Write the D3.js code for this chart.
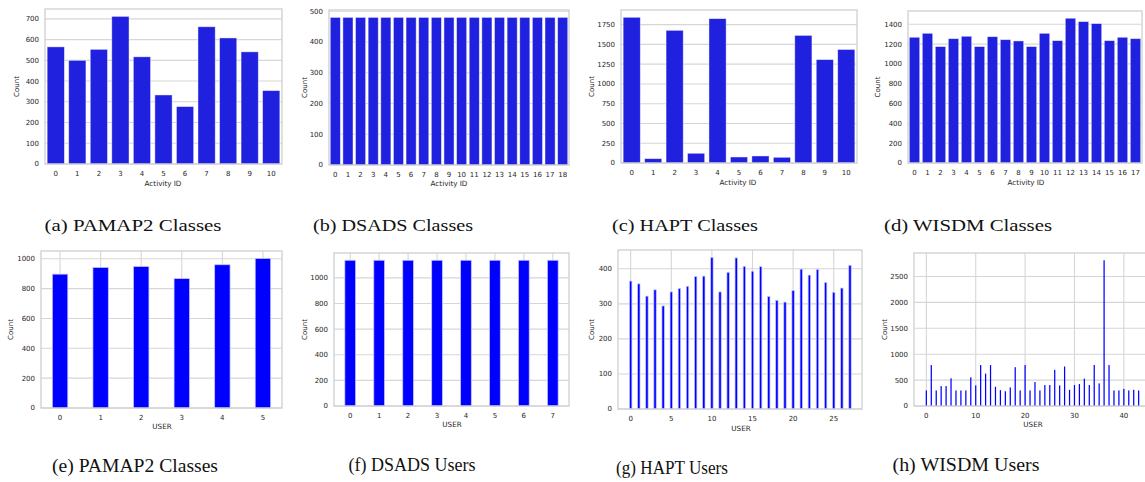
<!DOCTYPE html>
<html>
<head>
<meta charset="utf-8">
<script src="https://cdn.jsdelivr.net/npm/d3@7"></script>
<style>
  html, body { margin: 0; padding: 0; background: #ffffff; }
  svg { display: block; }
</style>
</head>
<body>
<svg id="chart" width="1145" height="482"></svg>
<script>
// ---------------- DATA ----------------
const pamapClassIds = ["0","1","2","3","4","5","6","7","8","9","10"];
const pamapClassCounts = [565, 500, 553, 712, 517, 333, 277, 662, 608, 541, 354];

const dsadsClassIds = ["0","1","2","3","4","5","6","7","8","9","10","11","12","13","14","15","16","17","18"];
const dsadsClassCounts = [480, 480, 480, 480, 480, 480, 480, 480, 480, 480, 480, 480, 480, 480, 480, 480, 480, 480, 480];

const haptClassIds = ["0","1","2","3","4","5","6","7","8","9","10"];
const haptClassCounts = [1843, 55, 1678, 123, 1826, 76, 89, 72, 1614, 1308, 1436];

const wisdmClassIds = ["0","1","2","3","4","5","6","7","8","9","10","11","12","13","14","15","16","17"];
const wisdmClassCounts = [1269, 1309, 1175, 1255, 1279, 1175, 1275, 1245, 1232, 1175, 1309, 1235, 1461, 1427, 1407, 1235, 1269, 1255];

const pamapUserIds = [0, 1, 2, 3, 4, 5];
const pamapUserCounts = [897, 942, 948, 867, 960, 1002];

const dsadsUserIds = [0, 1, 2, 3, 4, 5, 6, 7];
const dsadsUserCounts = [1137, 1137, 1137, 1137, 1137, 1137, 1137, 1137];

const haptUserIds = d3.range(0, 28);
const haptUserCounts = [365, 357, 322, 340, 294, 334, 344, 350, 378, 379, 432, 334, 390, 431,
                        407, 393, 406, 321, 310, 305, 338, 399, 382, 398, 361, 333, 345, 410];

const wisdmUserIds = d3.range(0, 44);
const wisdmUserCounts = [300, 790, 300, 384, 384, 534, 300, 300, 300, 553, 397, 790, 625, 790,
                         371, 306, 285, 358, 749, 300, 790, 300, 462, 300, 404, 404, 697, 397,
                         762, 312, 404, 423, 527, 404, 790, 436, 2812, 790, 300, 300, 330, 300,
                         312, 300];

const yTicksPamapClass = [0, 100, 200, 300, 400, 500, 600, 700];
const yTicksDsadsClass = [0, 100, 200, 300, 400, 500];
const yTicksHaptClass = [0, 250, 500, 750, 1000, 1250, 1500, 1750];
const yTicksWisdmClass = [0, 200, 400, 600, 800, 1000, 1200, 1400];
const yTicksPamapUser = [0, 200, 400, 600, 800, 1000];
const yTicksDsadsUser = [0, 200, 400, 600, 800, 1000];
const yTicksHaptUser = [0, 100, 200, 300, 400];
const yTicksWisdmUser = [0, 500, 1000, 1500, 2000, 2500];

const xTicksPamapUser = [0, 1, 2, 3, 4, 5];
const xTicksDsadsUser = [0, 1, 2, 3, 4, 5, 6, 7];
const xTicksHaptUser = [0, 5, 10, 15, 20, 25];
const xTicksWisdmUser = [0, 10, 20, 30, 40];

const captions = ["(a) PAMAP2 Classes", "(b) DSADS Classes", "(c) HAPT Classes", "(d) WISDM Classes",
                  "(e) PAMAP2 Classes", "(f) DSADS Users", "(g) HAPT Users", "(h) WISDM Users"];

// ---------------- LAYOUT / STYLE ----------------
const svg = d3.select("#chart");
const gridColor = "#d6d6d6";
const frameColor = "#cfcfcf";
const textColor = "#262626";
const fontFam = "DejaVu Sans, sans-serif";
const countFill = "#2020df";
const histFill = "#0000ff";

function drawPanel(p) {
  const g = svg.append("g");
  const y = d3.scaleLinear().domain([0, d3.max(p.values) * 1.05]).range([p.y1, p.y0]);

  let xPos, bw;
  if (p.kind === "count") {
    const xb = d3.scaleBand().domain(p.cats).range([p.x0, p.x1]).paddingInner(0.2).paddingOuter(0.1);
    xPos = (c) => xb(c);
    bw = xb.bandwidth();
    p.xTickPos = p.cats.map(c => ({v: c, x: xb(c) + xb.bandwidth() / 2}));
  } else {
    const xl = d3.scaleLinear().domain(p.xDomain).range([p.x0, p.x1]);
    bw = (xl(1) - xl(0)) * p.barFrac;
    xPos = (c) => xl(c) - bw / 2;
    p.xTickPos = p.xTicks.map(t => ({v: String(t), x: xl(t)}));
  }

  // horizontal grid
  g.selectAll(".hg").data(p.yTicks).join("line")
    .attr("x1", p.x0).attr("x2", p.x1)
    .attr("y1", d => y(d)).attr("y2", d => y(d))
    .attr("stroke", gridColor).attr("stroke-width", 1.1);

  // vertical grid for histogram style panels
  if (p.kind === "hist") {
    g.selectAll(".vg").data(p.xTickPos).join("line")
      .attr("x1", d => d.x).attr("x2", d => d.x)
      .attr("y1", p.y0).attr("y2", p.y1)
      .attr("stroke", gridColor).attr("stroke-width", 1.1);
  }

  // bars
  g.selectAll(".bar").data(p.values).join("rect")
    .attr("x", (d, i) => xPos(p.cats[i]))
    .attr("y", d => y(d))
    .attr("width", bw)
    .attr("height", d => y(0) - y(d))
    .attr("fill", p.kind === "count" ? countFill : histFill)
    .attr("stroke", p.kind === "count" ? "rgba(255,255,255,0.55)" : (p.thin ? "none" : "rgba(200,200,255,0.9)"))
    .attr("stroke-width", p.thin ? 0 : 0.8);

  // frame
  g.append("rect")
    .attr("x", p.x0).attr("y", p.y0)
    .attr("width", p.x1 - p.x0).attr("height", p.y1 - p.y0)
    .attr("fill", "none").attr("stroke", frameColor).attr("stroke-width", 1.3);

  // y tick labels
  g.selectAll(".yt").data(p.yTicks).join("text")
    .attr("x", p.x0 - 6).attr("y", d => y(d)).attr("dy", "0.35em")
    .attr("text-anchor", "end")
    .attr("font-family", fontFam).attr("font-size", 7).attr("fill", textColor)
    .text(d => d);

  // x tick labels
  g.selectAll(".xt").data(p.xTickPos).join("text")
    .attr("x", d => d.x).attr("y", p.y1 + 9.5).attr("dy", "0.35em")
    .attr("text-anchor", "middle")
    .attr("font-family", fontFam).attr("font-size", 7).attr("fill", textColor)
    .text(d => d.v);

  // axis labels
  g.append("text")
    .attr("transform", `translate(${p.ylx},${(p.y0 + p.y1) / 2}) rotate(-90)`)
    .attr("dy", "0.35em").attr("text-anchor", "middle")
    .attr("font-family", fontFam).attr("font-size", 7).attr("fill", textColor)
    .text("Count");
  g.append("text")
    .attr("x", p.xlx).attr("y", p.xly).attr("dy", "0.35em")
    .attr("text-anchor", "middle")
    .attr("font-family", fontFam).attr("font-size", 7.2).attr("fill", textColor)
    .text(p.xLabel);
}

const panels = [
  {kind: "count", cats: pamapClassIds, values: pamapClassCounts, yTicks: yTicksPamapClass,
   x0: 45, x1: 282, y0: 9, y1: 164, ylx: 17, xlx: 163, xly: 183, xLabel: "Activity ID"},
  {kind: "count", cats: dsadsClassIds, values: dsadsClassCounts, yTicks: yTicksDsadsClass,
   x0: 329, x1: 569, y0: 10, y1: 165, ylx: 305, xlx: 449, xly: 183, xLabel: "Activity ID"},
  {kind: "count", cats: haptClassIds, values: haptClassCounts, yTicks: yTicksHaptClass,
   x0: 621, x1: 857, y0: 10, y1: 163, ylx: 592, xlx: 738, xly: 182, xLabel: "Activity ID"},
  {kind: "count", cats: wisdmClassIds, values: wisdmClassCounts, yTicks: yTicksWisdmClass,
   x0: 908, x1: 1142, y0: 11, y1: 163, ylx: 878, xlx: 1026, xly: 182, xLabel: "Activity ID"},
  {kind: "hist", cats: pamapUserIds, values: pamapUserCounts, yTicks: yTicksPamapUser, xTicks: xTicksPamapUser,
   xDomain: [-0.47, 5.47], barFrac: 0.38,
   x0: 41, x1: 282, y0: 251, y1: 408, ylx: 11, xlx: 162, xly: 426, xLabel: "USER"},
  {kind: "hist", cats: dsadsUserIds, values: dsadsUserCounts, yTicks: yTicksDsadsUser, xTicks: xTicksDsadsUser,
   xDomain: [-0.56, 7.56], barFrac: 0.37,
   x0: 334, x1: 569, y0: 253, y1: 406, ylx: 305, xlx: 452, xly: 424, xLabel: "USER"},
  {kind: "hist", cats: haptUserIds, values: haptUserCounts, yTicks: yTicksHaptUser, xTicks: xTicksHaptUser,
   xDomain: [-1.56, 28.48], barFrac: 0.3,
   x0: 618, x1: 862, y0: 250, y1: 409, ylx: 592, xlx: 741, xly: 428, xLabel: "USER"},
  {kind: "hist", cats: wisdmUserIds, values: wisdmUserCounts, yTicks: yTicksWisdmUser, xTicks: xTicksWisdmUser,
   xDomain: [-2.5, 45.5], barFrac: 0.25, thin: true,
   x0: 914, x1: 1151, y0: 253, y1: 406, ylx: 885, xlx: 1033, xly: 424, xLabel: "USER"}
];
panels.forEach(drawPanel);

// ---------------- CAPTIONS ----------------
const capPos = [
  {cx: 133, y: 231, w: 177, fs: 16},
  {cx: 393, y: 231, w: 160, fs: 16},
  {cx: 685, y: 231, w: 146, fs: 16},
  {cx: 968, y: 231, w: 168, fs: 16},
  {cx: 135, y: 472, w: 166, fs: 18.5},
  {cx: 412, y: 471, w: 127, fs: 18.5},
  {cx: 672, y: 474, w: 112, fs: 18.5},
  {cx: 966, y: 471, w: 147, fs: 18.5}
];
svg.selectAll(".cap").data(captions).join("text")
  .attr("x", (d, i) => capPos[i].cx)
  .attr("y", (d, i) => capPos[i].y)
  .attr("text-anchor", "middle")
  .attr("font-family", "Liberation Serif, DejaVu Serif, serif")
  .attr("font-size", (d, i) => capPos[i].fs)
  .attr("textLength", (d, i) => capPos[i].w)
  .attr("lengthAdjust", "spacingAndGlyphs")
  .attr("fill", "#111")
  .text(d => d);
</script>
</body>
</html>
